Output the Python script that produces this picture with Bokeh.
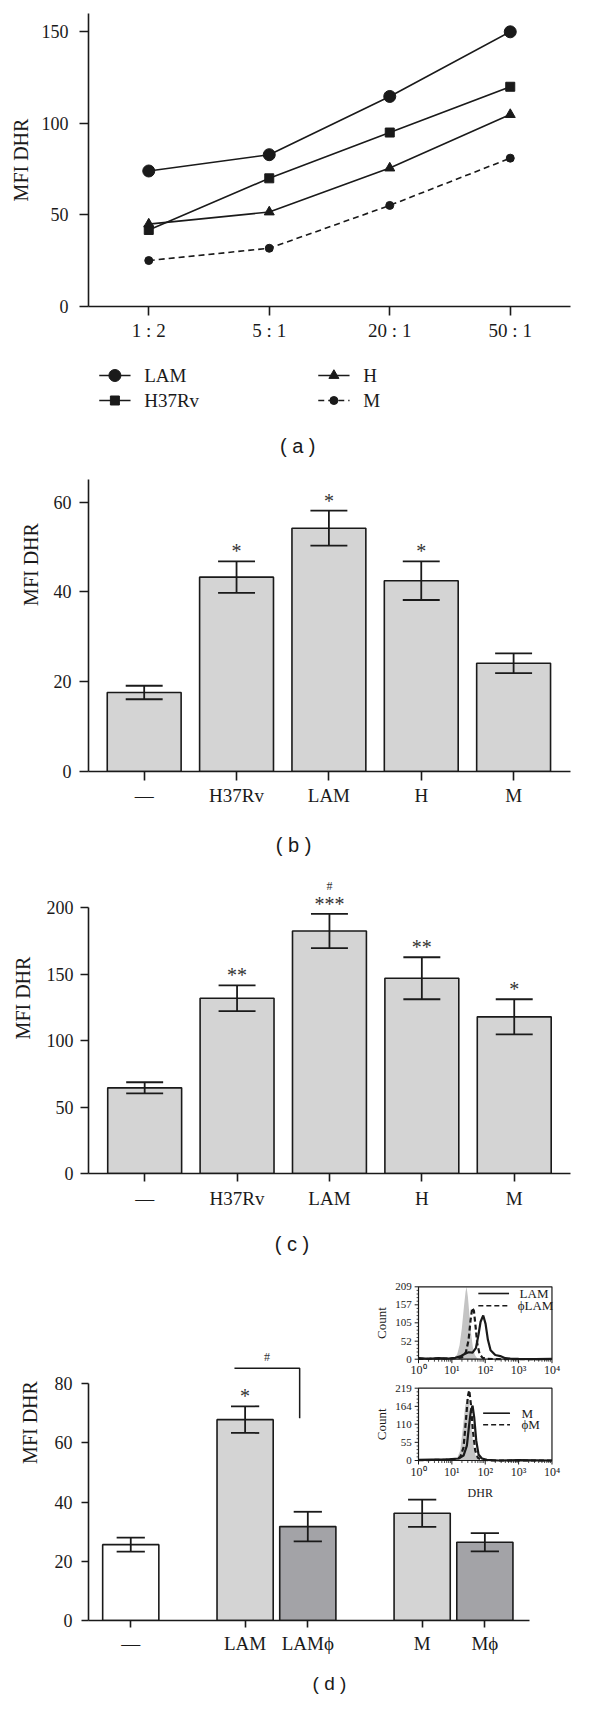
import math
from bokeh.plotting import figure
from bokeh.models import Range1d, FixedTicker
from bokeh.layouts import column
from bokeh.embed import file_html
from bokeh.resources import INLINE
from bokeh.core.properties import value

# ---------------- data ----------------
# (a) MFI DHR vs bacteria:cell ratio
ratios = ["1 : 2", "5 : 1", "20 : 1", "50 : 1"]
lam_a = [74.0, 82.9, 114.7, 150.0]
h37rv_a = [41.8, 70.0, 95.0, 120.0]
h_a = [45.0, 51.6, 75.6, 104.8]
m_a = [25.1, 31.8, 55.2, 81.0]

# (b) and (c) bar charts
cats_bc = ["—", "H37Rv", "LAM", "H", "M"]
mean_b = [17.6, 43.3, 54.2, 42.5, 24.1]
sem_b = [1.5, 3.5, 3.9, 4.3, 2.2]
sig_b = ["", "*", "*", "*", ""]

mean_c = [64.4, 131.8, 182.3, 146.8, 117.8]
sem_c = [4.2, 9.7, 12.9, 15.8, 13.2]
sig_c = ["", "**", "***", "**", "*"]
hash_c = ["", "", "#", "", ""]

# (d) bar chart with phi-treated groups
cats_d = ["—", "LAM", "LAMϕ", "M", "Mϕ"]
group_d = [0, 1, 1, 2, 2]
mean_d = [25.6, 67.8, 31.7, 36.2, 26.4]
sem_d = [2.35, 4.5, 5.0, 4.6, 3.1]
sig_d = ["", "*", "", "", ""]

# (d) inset histograms (x = log10 DHR, y = count)
inset_decades = [0, 1, 2, 3, 4]
inset_lam_yticks = [0, 52, 105, 157, 209]
inset_m_yticks = [0, 55, 110, 164, 219]

lam_ctrl_x = [0.95, 1.08, 1.16, 1.23, 1.30, 1.36, 1.41, 1.44, 1.48, 1.53, 1.58, 1.63, 1.69, 1.76, 1.86]
lam_ctrl_y = [0, 4, 14, 40, 90, 150, 195, 209, 180, 125, 72, 34, 12, 3, 0]
lam_x = [0.0, 0.3, 0.6, 0.9, 1.1, 1.25, 1.38, 1.5, 1.62, 1.72, 1.80, 1.86, 1.94, 2.01, 2.08, 2.16, 2.30, 2.45, 2.60, 2.75, 3.0, 3.5, 4.0]
lam_y = [3, 1, 3, 2, 4, 8, 15, 20, 19, 32, 72, 108, 126, 102, 56, 26, 12, 9, 3, 2, 1, 0, 1]
lam_phi_x = [0.0, 1.0, 1.30, 1.42, 1.50, 1.56, 1.61, 1.66, 1.71, 1.76, 1.83, 1.92, 2.05, 2.5, 4.0]
lam_phi_y = [1, 2, 5, 20, 55, 112, 148, 140, 95, 45, 15, 4, 1, 0, 0]

m_ctrl_x = [1.0, 1.15, 1.25, 1.33, 1.40, 1.46, 1.52, 1.58, 1.64, 1.72, 1.85]
m_ctrl_y = [0, 5, 30, 100, 165, 190, 170, 110, 50, 12, 0]
m_x = [0.0, 0.4, 0.8, 1.2, 1.35, 1.45, 1.52, 1.57, 1.62, 1.67, 1.73, 1.80, 1.90, 2.05, 2.4, 3.0, 4.0]
m_y = [2, 3, 3, 6, 15, 45, 110, 150, 166, 130, 60, 18, 6, 2, 0, 1, 0]
m_phi_x = [0.0, 0.8, 1.1, 1.25, 1.35, 1.42, 1.48, 1.52, 1.57, 1.63, 1.70, 1.78, 1.90, 2.2, 4.0]
m_phi_y = [1, 2, 4, 10, 40, 120, 195, 213, 170, 90, 30, 8, 2, 0, 0]

# ---------------- styling helpers ----------------
SERIF = "Liberation Serif"
SANS = "Liberation Sans"
INK = "#1a1a1a"
MARK = "#333333"
BAR_LIGHT = "#d4d4d4"
BAR_DARK = "#a3a3a7"
W = 584
XLAB = "19px"
YLAB = "18px"
CAP_X = 300


class Geo:
    """Maps page pixels to data coordinates for a figure placed at fig_top."""
    def __init__(self, fig_top, height, xr, yr, top, right, bottom, left):
        self.l = 8 + left
        self.r = 8 + W - right
        self.t = fig_top + top
        self.b = fig_top + height - bottom
        self.xr, self.yr = xr, yr
        self.kx = (xr[1] - xr[0]) / (self.r - self.l)
        self.ky = (yr[1] - yr[0]) / (self.b - self.t)

    def dx(self, px):
        return self.xr[0] + (px - self.l) * self.kx

    def dy(self, py):
        return self.yr[0] + (self.b - py) * self.ky

    def ux(self, n):
        return n * self.kx

    def uy(self, n):
        return n * self.ky


def make_fig(height, xr, yr, mb, xticks, xlabels, yticks,
             tick_out=9, ystand=9, ylab_stand=10, xstand=5):
    p = figure(width=W, height=height, x_range=Range1d(*xr), y_range=Range1d(*yr),
               output_backend="svg", toolbar_location=None,
               min_border_top=mb[0], min_border_right=mb[1],
               min_border_bottom=mb[2], min_border_left=mb[3])
    p.outline_line_color = None
    p.grid.visible = False
    p.background_fill_color = "white"
    p.border_fill_color = "white"
    for ax in p.axis:
        ax.axis_line_color = INK
        ax.axis_line_width = 1.6
        ax.major_tick_line_color = INK
        ax.major_tick_line_width = 1.6
        ax.major_tick_out = tick_out
        ax.major_tick_in = 0
        ax.minor_tick_out = 0
        ax.minor_tick_in = 0
        ax.major_label_text_font = SERIF
        ax.major_label_text_color = INK
    p.xaxis.ticker = FixedTicker(ticks=xticks)
    p.xaxis.major_label_overrides = {t: s for t, s in zip(xticks, xlabels)}
    p.xaxis.major_label_text_font_size = XLAB
    p.xaxis.major_label_standoff = xstand
    p.yaxis.ticker = FixedTicker(ticks=yticks)
    p.yaxis.major_label_text_font_size = YLAB
    p.yaxis.major_label_standoff = ystand
    p.yaxis.axis_label = "MFI DHR"
    p.yaxis.axis_label_text_font = SERIF
    p.yaxis.axis_label_text_font_style = "normal"
    p.yaxis.axis_label_text_font_size = "20px"
    p.yaxis.axis_label_text_color = INK
    p.yaxis.axis_label_standoff = ylab_stand
    return p


def txt(p, xs, ys, texts, size, align="center", baseline="middle", font=SERIF,
        color=INK, angle=0.0):
    p.text(x=xs, y=ys, text=texts, text_font=value(font), text_font_size=value(size),
           text_align=align, text_baseline=baseline, text_color=color, angle=angle)


def caption(p, g, text, px, py):
    txt(p, [g.dx(px)], [g.dy(py)], [text], "20px", font=SANS)


def bars(p, xs, means, sems, width, fills, cap):
    p.vbar(x=xs, top=means, bottom=0, width=width, fill_color=fills,
           line_color=INK, line_width=1.6)
    hi = [m + s for m, s in zip(means, sems)]
    lo = [m - s for m, s in zip(means, sems)]
    p.segment(x0=xs, y0=lo, x1=xs, y1=hi, line_color=INK, line_width=1.8)
    p.segment(x0=[x - cap / 2 for x in xs], y0=hi, x1=[x + cap / 2 for x in xs], y1=hi,
              line_color=INK, line_width=1.8)
    p.segment(x0=[x - cap / 2 for x in xs], y0=lo, x1=[x + cap / 2 for x in xs], y1=lo,
              line_color=INK, line_width=1.8)
    return hi


def marks(p, g, xs, tops, labels, px_above, size="20px"):
    sel = [(x, t, s) for x, t, s in zip(xs, tops, labels) if s]
    if sel:
        txt(p, [s[0] for s in sel], [s[1] + g.uy(px_above) for s in sel],
            [s[2] for s in sel], size, color=MARK)


# ---------------- panel (a) ----------------
A_TOP, A_H, A_MB = 8, 352, (13, 13, 46, 88)
a_xr, a_yr = (-0.5, 3.5), (0, 160)
ga = Geo(A_TOP, A_H, a_xr, a_yr, *A_MB)
xa = list(range(len(ratios)))
pa = make_fig(A_H, a_xr, a_yr, A_MB, xa, ratios, [0, 50, 100, 150],
              tick_out=9, ystand=11, ylab_stand=7, xstand=4)
series = [(lam_a, "circle", 12, "solid", "LAM"),
          (h37rv_a, "square", 9, "solid", "H37Rv"),
          (h_a, "triangle", 10, "solid", "H"),
          (m_a, "circle", 8, "6 4", "M")]
for vals, marker, size, dash, name in series:
    pa.line(xa, vals, line_color=INK, line_width=1.6, line_dash=dash)
    pa.scatter(xa, vals, marker=marker, size=size, fill_color=INK, line_color=INK)

# ---------------- panel (b) (its frame also hosts legend and caption of (a)) ----------------
B_TOP, B_H, B_MB = 360, 465, (5, 13, 46, 78)
b_xr, b_yr = (-0.603, 4.616), (0, 414 / 4.489)
gb = Geo(B_TOP, B_H, b_xr, b_yr, *B_MB)
xb = list(range(len(cats_bc)))
pb = make_fig(B_H, b_xr, b_yr, B_MB, xb, cats_bc, [0, 20, 40, 60],
              tick_out=9, ystand=8, ylab_stand=9, xstand=4)
pb.yaxis.bounds = (0, 65)
hib = bars(pb, xb, mean_b, sem_b, 0.8, [BAR_LIGHT] * len(xb), 0.4)
marks(pb, gb, xb, hib, sig_b, 10)

# legend of (a): two columns, two rows
leg_cols = {"LAM": (97, 383), "H37Rv": (97, 408), "H": (321, 383), "M": (321, 408)}
for vals, marker, size, dash, name in series:
    lx, ly = leg_cols[name]
    pb.line([gb.dx(lx), gb.dx(lx + 32)], [gb.dy(ly)] * 2, line_color=INK, line_width=1.6,
            line_dash=dash)
    pb.scatter([gb.dx(lx + 16)], [gb.dy(ly)], marker=marker, size=size, fill_color=INK,
               line_color=INK)
    txt(pb, [gb.dx(lx + 46)], [gb.dy(ly)], [name], "19px", align="left")
caption(pb, gb, "( a )", CAP_X, 453)

# ---------------- panel (c) ----------------
C_TOP, C_H, C_MB = 825, 402, (5, 14, 46, 86)
c_xr, c_yr = (-0.608, 4.609), (0, 351 / 1.33)
gc = Geo(C_TOP, C_H, c_xr, c_yr, *C_MB)
pc = make_fig(C_H, c_xr, c_yr, C_MB, xb, cats_bc, [0, 50, 100, 150, 200],
              tick_out=8, ystand=7, ylab_stand=10, xstand=6)
pc.yaxis.bounds = (0, 200)
hic = bars(pc, xb, mean_c, sem_c, 0.8, [BAR_LIGHT] * len(xb), 0.4)
marks(pc, gc, xb, hic, sig_c, 10)
marks(pc, gc, xb, hic, hash_c, 28, size="12px")
caption(pc, gc, "( b )", CAP_X, 852)

# ---------------- panel (d) ----------------
D_TOP, D_H, D_MB = 1227, 447, (5, 2, 46, 80)
d_xr, d_yr = (-0.674, 7.014), (0, 396 / 2.9625)
gd = Geo(D_TOP, D_H, d_xr, d_yr, *D_MB)
xd = [round(i + grp * 0.824, 3) for i, grp in enumerate(group_d)]
pd_ = make_fig(D_H, d_xr, d_yr, D_MB, xd, cats_d, [0, 20, 40, 60, 80],
               tick_out=7, ystand=9, ylab_stand=11, xstand=5)
pd_.yaxis.bounds = (0, 80)
pd_.xaxis.bounds = (d_xr[0], xd[-1] + 0.715)
fills_d = ["white" if g == 0 else (BAR_LIGHT if "ϕ" not in c else BAR_DARK)
           for g, c in zip(group_d, cats_d)]
hid = bars(pd_, xd, mean_d, sem_d, 0.896, fills_d, 0.45)
marks(pd_, gd, xd, hid, sig_d, 10)
caption(pd_, gd, "( c )", CAP_X, 1251)

# significance bracket LAM vs LAMϕ
i_lam, i_phi = 1, 2
br_y = hid[i_lam] + gd.uy(38)
br_l, br_r = xd[i_lam] - 0.17, xd[i_phi] - 0.13
pd_.line([br_l, br_r, br_r], [br_y, br_y, hid[i_lam] + gd.uy(-12)],
         line_color=INK, line_width=1.5)
txt(pd_, [(br_l + br_r) / 2], [br_y + gd.uy(11)], ["#"], "12px", color=MARK)

SUP = {0: "⁰", 1: "¹", 2: "²", 3: "³", 4: "⁴"}


def draw_inset(p, g, box, ymax, yticks, ctrl, solid, dashed, legend, leg_px):
    x0p, x1p, y0p, y1p = box

    def X(vals):
        return [g.dx(x0p + v / 4 * (x1p - x0p)) for v in vals]

    def Y(vals):
        return [g.dy(y0p - v / ymax * (y0p - y1p)) for v in vals]

    cx, cy = ctrl
    p.varea(x=X(cx), y1=Y([0] * len(cx)), y2=Y(cy), fill_color="#c4c4c4")
    sx, sy = solid
    p.line(X(sx), Y(sy), line_color=INK, line_width=2.2)
    ddx, ddy = dashed
    p.line(X(ddx), Y(ddy), line_color=INK, line_width=2.2, line_dash="5 3")
    p.quad(left=X([0]), right=X([4]), bottom=Y([0]), top=Y([ymax]),
           fill_color=None, line_color=INK, line_width=1.2)
    xl, yb = X([0])[0], Y([0])[0]
    yt = Y(yticks)
    p.segment(x0=[xl - g.ux(4)] * len(yt), y0=yt, x1=[xl] * len(yt), y1=yt,
              line_color=INK, line_width=1)
    ymin = [a + (b - a) * k / 5 for a, b in zip(yticks[:-1], yticks[1:]) for k in range(1, 5)]
    ym = Y(ymin)
    p.segment(x0=[xl - g.ux(2)] * len(ym), y0=ym, x1=[xl] * len(ym), y1=ym,
              line_color=INK, line_width=0.8)
    xt = X(inset_decades)
    p.segment(x0=xt, y0=[yb] * len(xt), x1=xt, y1=[yb - g.uy(4)] * len(xt),
              line_color=INK, line_width=1)
    xmin = [d + math.log10(m) for d in inset_decades[:-1] for m in range(2, 10)]
    xm = X(xmin)
    p.segment(x0=xm, y0=[yb] * len(xm), x1=xm, y1=[yb - g.uy(2.5)] * len(xm),
              line_color=INK, line_width=0.8)
    txt(p, [xl - g.ux(7)] * len(yt), yt, [str(t) for t in yticks], "11px", align="right")
    txt(p, xt, [yb - g.uy(4)] * len(xt), ["10" + SUP[d] for d in inset_decades], "12px",
        baseline="top")
    txt(p, [g.dx(393)], [(Y([0])[0] + Y([ymax])[0]) / 2], ["Count"], "13px",
        angle=math.pi / 2)
    (lx0, lx1, ly1, ly2, tx1, tx2) = leg_px
    p.line([g.dx(lx0), g.dx(lx1)], [g.dy(ly1)] * 2, line_color=INK, line_width=1.6)
    p.line([g.dx(lx0), g.dx(lx1)], [g.dy(ly2)] * 2, line_color=INK, line_width=1.6,
           line_dash="5 3")
    txt(p, [g.dx(tx1), g.dx(tx2)], [g.dy(ly1), g.dy(ly2)], legend, "13px", align="left")


draw_inset(pd_, gd, (431.7, 570.7, 1366.7, 1294.3), inset_lam_yticks[-1], inset_lam_yticks,
           (lam_ctrl_x, lam_ctrl_y), (lam_x, lam_y), (lam_phi_x, lam_phi_y),
           ["LAM", "ϕLAM"], (494, 526, 1301, 1313.3, 537, 535))
draw_inset(pd_, gd, (431.7, 570.7, 1468.0, 1395.7), inset_m_yticks[-1], inset_m_yticks,
           (m_ctrl_x, m_ctrl_y), (m_x, m_y), (m_phi_x, m_phi_y),
           ["M", "ϕM"], (499, 527, 1420.7, 1432.3, 539, 539))
txt(pd_, [gd.dx(496)], [gd.dy(1500)], ["DHR"], "12px")

# ---------------- caption strip for (d) ----------------
E_TOP, E_H = 1674, 30
pe = figure(width=W, height=E_H, x_range=Range1d(8, 8 + W), y_range=Range1d(E_TOP + E_H, E_TOP),
            output_backend="svg", toolbar_location=None, x_axis_location=None,
            y_axis_location=None, min_border=0)
pe.outline_line_color = None
pe.grid.visible = False
txt(pe, [CAP_X], [1691], ["( d )"], "19px", font=SANS)

layout = column(pa, pb, pc, pd_, pe, spacing=0)
open("out.html", "w").write(file_html(layout, INLINE))
